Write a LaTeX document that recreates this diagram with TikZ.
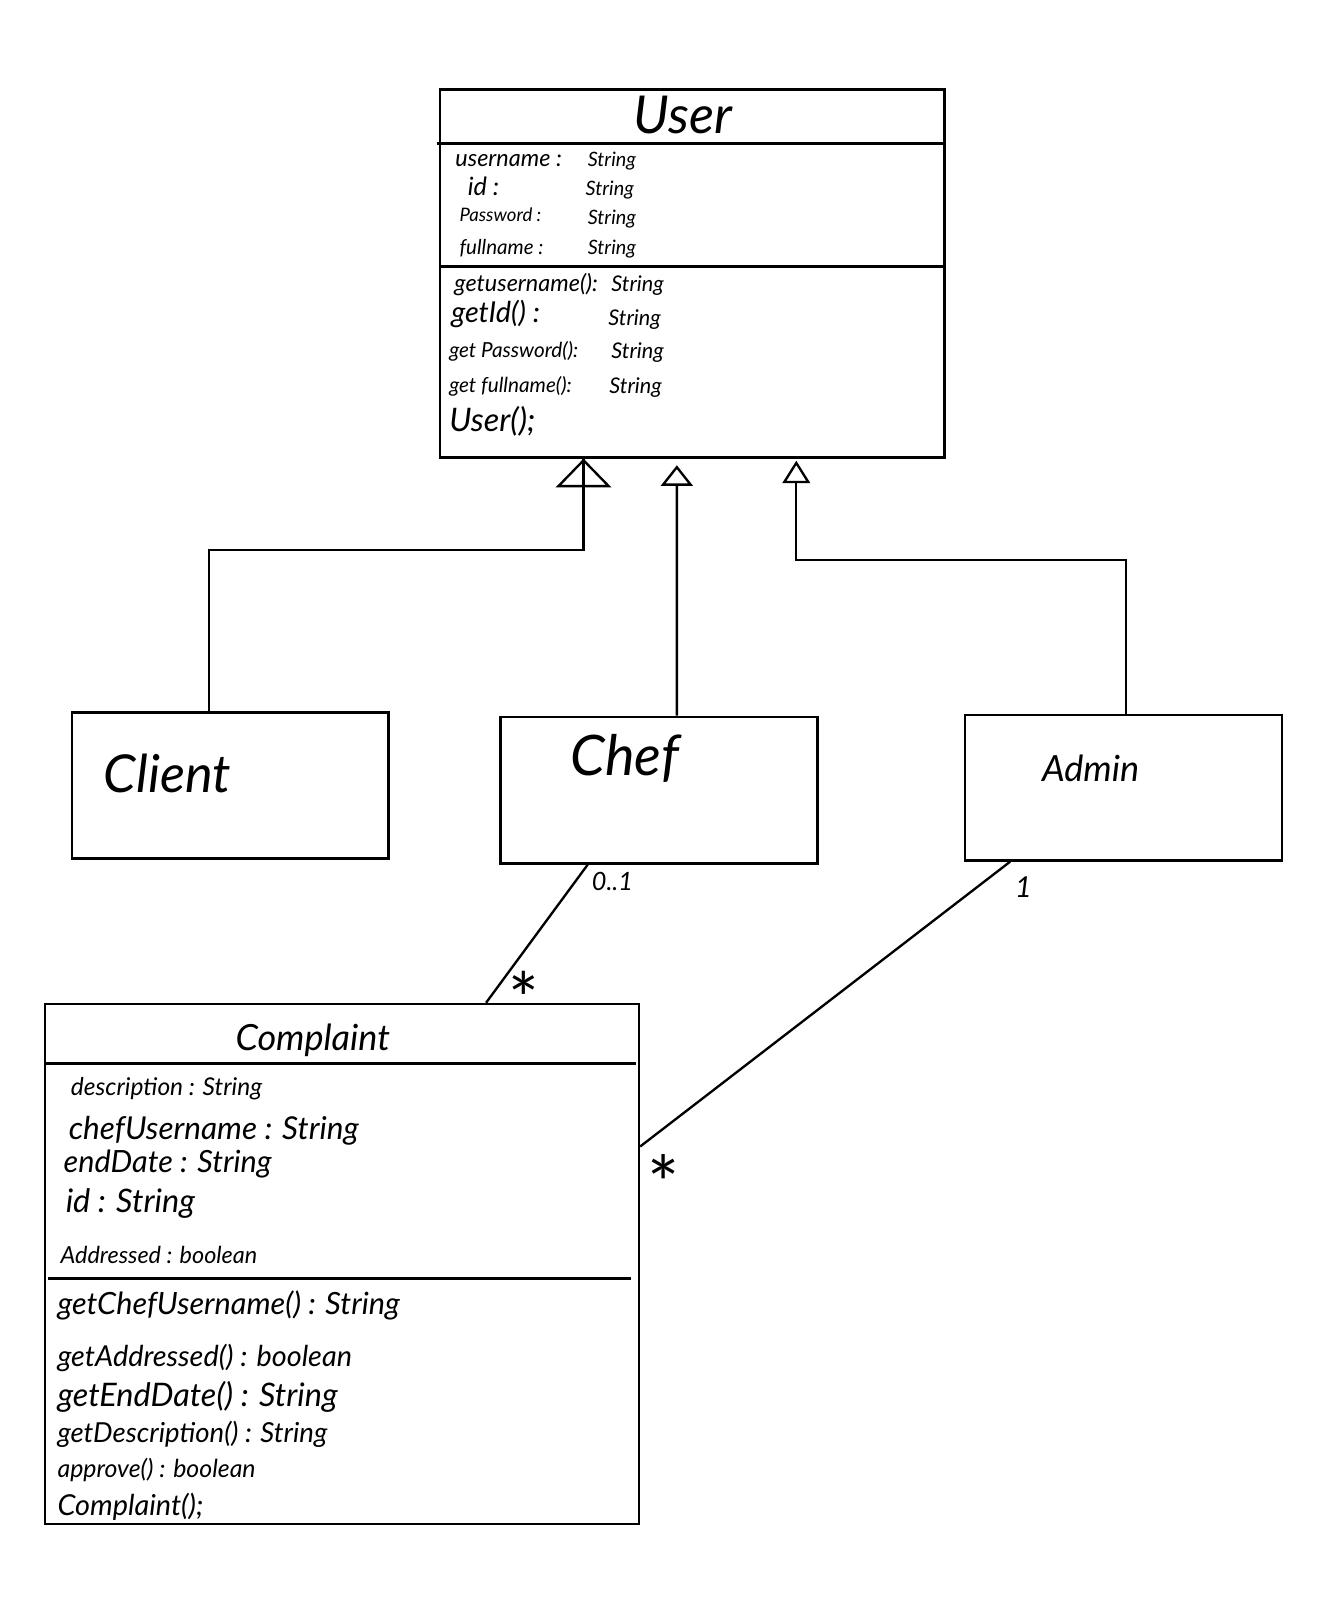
\documentclass[tikz,border=0pt]{standalone}
\usepackage{fontspec}
\setmainfont{Lato}
\usetikzlibrary{arrows.meta,calc}
\newcommand\hsz[1]{\fontsize{#1}{#1}\selectfont}
\begin{document}
\begin{tikzpicture}[x=0.02cm,y=-0.02cm,line width=1.3pt,
  classbox/.style={draw,line width=1.4pt,inner sep=0pt},
  txt/.style={anchor=mid west,inner sep=0pt,font=\itshape},
  ctxt/.style={anchor=mid,inner sep=0pt,font=\itshape},
  genbig/.style={-{Triangle[open,length=0.56cm,width=1.08cm,line width=1.3pt]}},
  gensmall/.style={-{Triangle[open,length=0.40cm,width=0.62cm,line width=1.3pt]}},
  genadmin/.style={-{Triangle[open,length=0.44cm,width=0.54cm,line width=1.3pt]}},
  assoc/.style={line width=1.3pt}]
\useasboundingbox[fill=white] (0,0) rectangle (1305,1568);

% class boxes
\node[classbox,minimum width=9.84cm,minimum height=7.18cm] (user) at (675,266.5) {};
\node[classbox,minimum width=6.18cm,minimum height=2.84cm] (client) at (224.5,766) {};
\node[classbox,minimum width=6.18cm,minimum height=2.86cm] (chef) at (642.5,770.5) {};
\node[classbox,minimum width=6.18cm,minimum height=2.84cm] (admin) at (1095.5,768) {};
\node[classbox,minimum width=11.58cm,minimum height=10.14cm] (complaint) at (333.5,1232.5) {};

% compartment lines
\draw[line width=1.4pt] ([yshift=-1.08cm,xshift=-0.04cm]user.north west) -- ([yshift=-1.08cm]user.north east);
\draw[line width=1.4pt] ([yshift=-3.48cm]user.north west) -- ([yshift=-3.48cm,xshift=-0.06cm]user.north east);
\draw[line width=1.4pt] ([yshift=-1.18cm]complaint.north west) -- ([yshift=-1.18cm,xshift=-0.08cm]complaint.north east);
\draw[line width=1.4pt] ([yshift=-5.38cm,xshift=0.08cm]complaint.north west) -- ([yshift=-5.38cm,xshift=-0.18cm]complaint.north east);

% class names
\node[ctxt,font=\itshape\hsz{29}] (tuser) at (666,126) {User};
\node[txt,font=\itshape\hsz{29}] (tclient) at (100,768) {Client};
\node[txt,font=\itshape\hsz{31}] (tchef) at (555,752) {Chef};
\node[txt,font=\itshape\hsz{20}] (tadmin) at (1015,758) {Admin};
\node[ctxt,font=\itshape\hsz{20}] (tcomplaint) at (305,1020) {Complaint};

% User attributes
\node[txt,font=\itshape\hsz{13}] (ua1) at (443,158) {username :};
\node[txt,font=\itshape\hsz{11}] (ua1t) at (572,158) {String};
\node[txt,font=\itshape\hsz{14}] (ua2) at (455,186) {id :};
\node[txt,font=\itshape\hsz{11}] (ua2t) at (570,186) {String};
\node[txt,font=\itshape\hsz{10.3}] (ua3) at (447,212) {Password :};
\node[txt,font=\itshape\hsz{11}] (ua3t) at (572,214) {String};
\node[txt,font=\itshape\hsz{11.4}] (ua4) at (447,244) {fullname :};
\node[txt,font=\itshape\hsz{11}] (ua4t) at (572,244) {String};

% User operations
\node[txt,font=\itshape\hsz{13}] (uo1) at (442,280) {getusername():};
\node[txt,font=\itshape\hsz{12}] (uo1t) at (595,280) {String};
\node[txt,font=\itshape\hsz{16}] (uo2) at (439,310) {getId() :};
\node[txt,font=\itshape\hsz{12}] (uo2t) at (592,313) {String};
\node[txt,font=\itshape\hsz{11.5}] (uo3) at (437,344) {get Password():};
\node[txt,font=\itshape\hsz{12}] (uo3t) at (595,345) {String};
\node[txt,font=\itshape\hsz{11.5}] (uo4) at (437,378) {get fullname():};
\node[txt,font=\itshape\hsz{12}] (uo4t) at (593,379) {String};
\node[txt,font=\itshape\hsz{18}] (uo5) at (437,416) {User();};

% Complaint attributes
\node[txt,font=\itshape\hsz{13.6}] (ca1) at (68,1064) {description : String};
\node[txt,font=\itshape\hsz{17.5}] (ca2) at (66,1107) {chefUsername : String};
\node[txt,font=\itshape\hsz{17}] (ca3) at (61,1139) {endDate : String};
\node[txt,font=\itshape\hsz{18}] (ca4) at (63,1178) {id : String};
\node[txt,font=\itshape\hsz{13}] (ca5) at (58,1228) {Addressed : boolean};

% Complaint operations
\node[txt,font=\itshape\hsz{17}] (co1) at (55,1277) {getChefUsername() : String};
\node[txt,font=\itshape\hsz{16}] (co2) at (55,1328) {getAddressed() : boolean};
\node[txt,font=\itshape\hsz{18}] (co3) at (55,1367) {getEndDate() : String};
\node[txt,font=\itshape\hsz{15.3}] (co4) at (55,1402) {getDescription() : String};
\node[txt,font=\itshape\hsz{13.8}] (co5) at (55,1436) {approve() : boolean};
\node[txt,font=\itshape\hsz{16}] (co6) at (55,1473) {Complaint();};

% generalisations
\draw[genbig] ([xshift=-0.41cm]client.north) |- ([xshift=-2.12cm,yshift=-1.78cm]user.south) -- ([xshift=-2.12cm]user.south);
\draw ([xshift=-2.12cm,yshift=-0.56cm]user.south) -- ([xshift=-2.12cm]user.south);
\draw[gensmall] ([xshift=0.35cm]chef.north) -- ([xshift=-0.3cm,yshift=-0.13cm]user.south);
\draw[genadmin] ([xshift=0.05cm]admin.north) |- ([xshift=2.03cm,yshift=-1.98cm]user.south) -- ([xshift=2.03cm,yshift=-0.04cm]user.south);

% associations
\draw[assoc] ([xshift=-1.39cm]chef.south) -- ([xshift=2.81cm]complaint.north);
\draw[assoc] ([xshift=-2.21cm]admin.south) -- ([yshift=2.29cm]complaint.east);

% multiplicities
\node[txt,font=\itshape\hsz{14}] (m1) at (576,864) {0..1};
\node[ctxt,font=\hsz{40}] (m2) at (511,996) {*};
\node[ctxt,font=\itshape\hsz{16}] (m3) at (998,871) {1};
\node[ctxt,font=\hsz{42}] (m4) at (647,1177) {*};
\end{tikzpicture}
\end{document}
